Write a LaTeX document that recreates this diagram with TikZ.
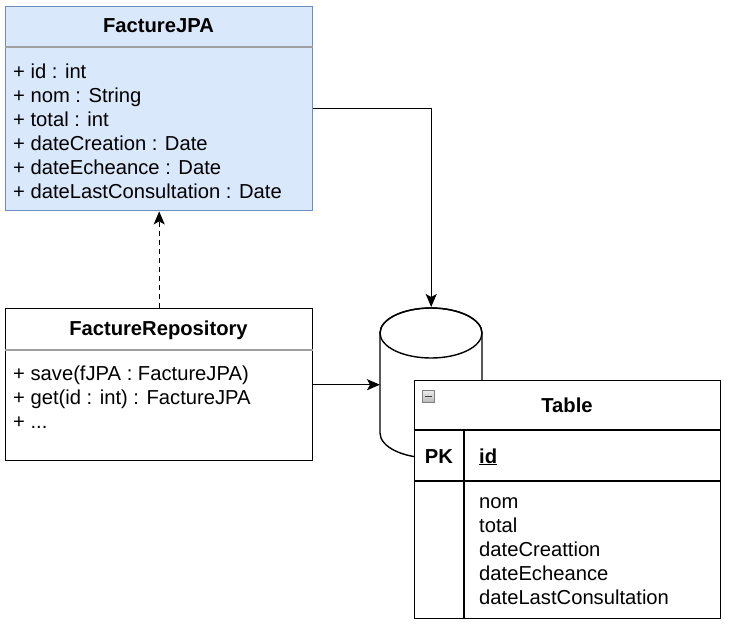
\documentclass[tikz,border=0pt]{standalone}
\usepackage{fontspec}
\setmainfont{Liberation Sans}
\usetikzlibrary{arrows.meta}
\definecolor{jpafill}{HTML}{DAE8FC}
\definecolor{jpadraw}{HTML}{6C8EBF}
\definecolor{sepgray}{HTML}{A0A0A0}
\tikzset{
  box/.style={draw=black, fill=white, line width=1.4pt, rectangle, anchor=north west, inner sep=0pt},
  jpabox/.style={box, draw=jpadraw, fill=jpafill},
  sepline/.style={draw=sepgray, line width=1.3pt},
  tline/.style={draw=black, line width=1.4pt},
  txt/.style={anchor=base west, inner sep=0pt, font=\fontsize{20.2}{24}\selectfont},
  ctxt/.style={anchor=base, inner sep=0pt, font=\fontsize{20.2}{24}\selectfont\bfseries},
  arr/.style={draw=black, line width=1.4pt, -{Stealth[length=13pt, width=11pt, inset=3pt]}},
}
\begin{document}
\begin{tikzpicture}[x=1pt, y=-1pt]
\useasboundingbox (0,0) rectangle (729,625);
% FactureJPA
\node[jpabox, minimum width=307pt, minimum height=204pt] (jpa) at (5,6) {};
\draw[sepline] ([yshift=-41pt]jpa.north west) -- ([yshift=-41pt]jpa.north east);
\node[ctxt] (jpat) at (158.5,32) {FactureJPA};
\node[txt] (a1) at (13,78) {+ id : int};
\node[txt] (a2) at (13,102) {+ nom : String};
\node[txt] (a3) at (13,126) {+ total : int};
\node[txt] (a4) at (13,150) {+ dateCreation : Date};
\node[txt] (a5) at (13,174) {+ dateEcheance : Date};
\node[txt] (a6) at (13,198) {+ dateLastConsultation : Date};
% FactureRepository
\node[box, minimum width=307pt, minimum height=152pt] (repo) at (5,308) {};
\draw[sepline] ([yshift=-42pt]repo.north west) -- ([yshift=-42pt]repo.north east);
\node[ctxt] (repot) at (158.5,335) {FactureRepository};
\node[txt] (m1) at (13,380) {+ save(fJPA : FactureJPA)};
\node[txt] (m2) at (13,404) {+ get(id : int) : FactureJPA};
\node[txt] (m3) at (13,428) {+ ...};
% database cylinder
\node[rectangle, inner sep=0pt, minimum width=102pt, minimum height=151pt, anchor=north west] (db) at (380,307) {};
\draw[line width=1.4pt, fill=white] (380,333) -- (380,433)
  arc[start angle=180, end angle=0, x radius=51, y radius=25]
  -- (482,333) arc[start angle=0, end angle=-180, x radius=51, y radius=25] -- cycle;
\draw[line width=1.4pt] (431,333) ellipse[x radius=51, y radius=25];
% connectors
\draw[arr] (jpa.east) -| (db.north);
\draw[arr] (repo.east) -- (repo.east -| db.west);
\draw[arr, dashed, dash pattern=on 5pt off 4pt] (repo.north) -- (jpa.south);
% Table
\node[box, minimum width=306pt, minimum height=238pt] (tbl) at (414,380) {};
\draw[tline] (414,430) -- (720,430);
\draw[tline] (414,481) -- (720,481);
\draw[tline] (464,430) -- (464,618);
\node[draw=gray, line width=0.6pt, top color=gray!15, bottom color=gray!55, minimum size=12pt, inner sep=0pt, anchor=north west] (minus) at (422,390) {};
\draw[line width=1.2pt, black!75] ([xshift=3pt]minus.west) -- ([xshift=-3pt]minus.east);
\node[ctxt] (tblt) at (567,412) {Table};
\node[ctxt] (pk) at (439,463) {PK};
\node[txt, font=\fontsize{20.2}{24}\selectfont\bfseries] (pkid) at (479,463) {\underline{id}};
\node[txt] (f1) at (479,508) {nom};
\node[txt] (f2) at (479,532) {total};
\node[txt] (f3) at (479,556) {dateCreattion};
\node[txt] (f4) at (479,580) {dateEcheance};
\node[txt] (f5) at (479,604) {dateLastConsultation};
\end{tikzpicture}
\end{document}
